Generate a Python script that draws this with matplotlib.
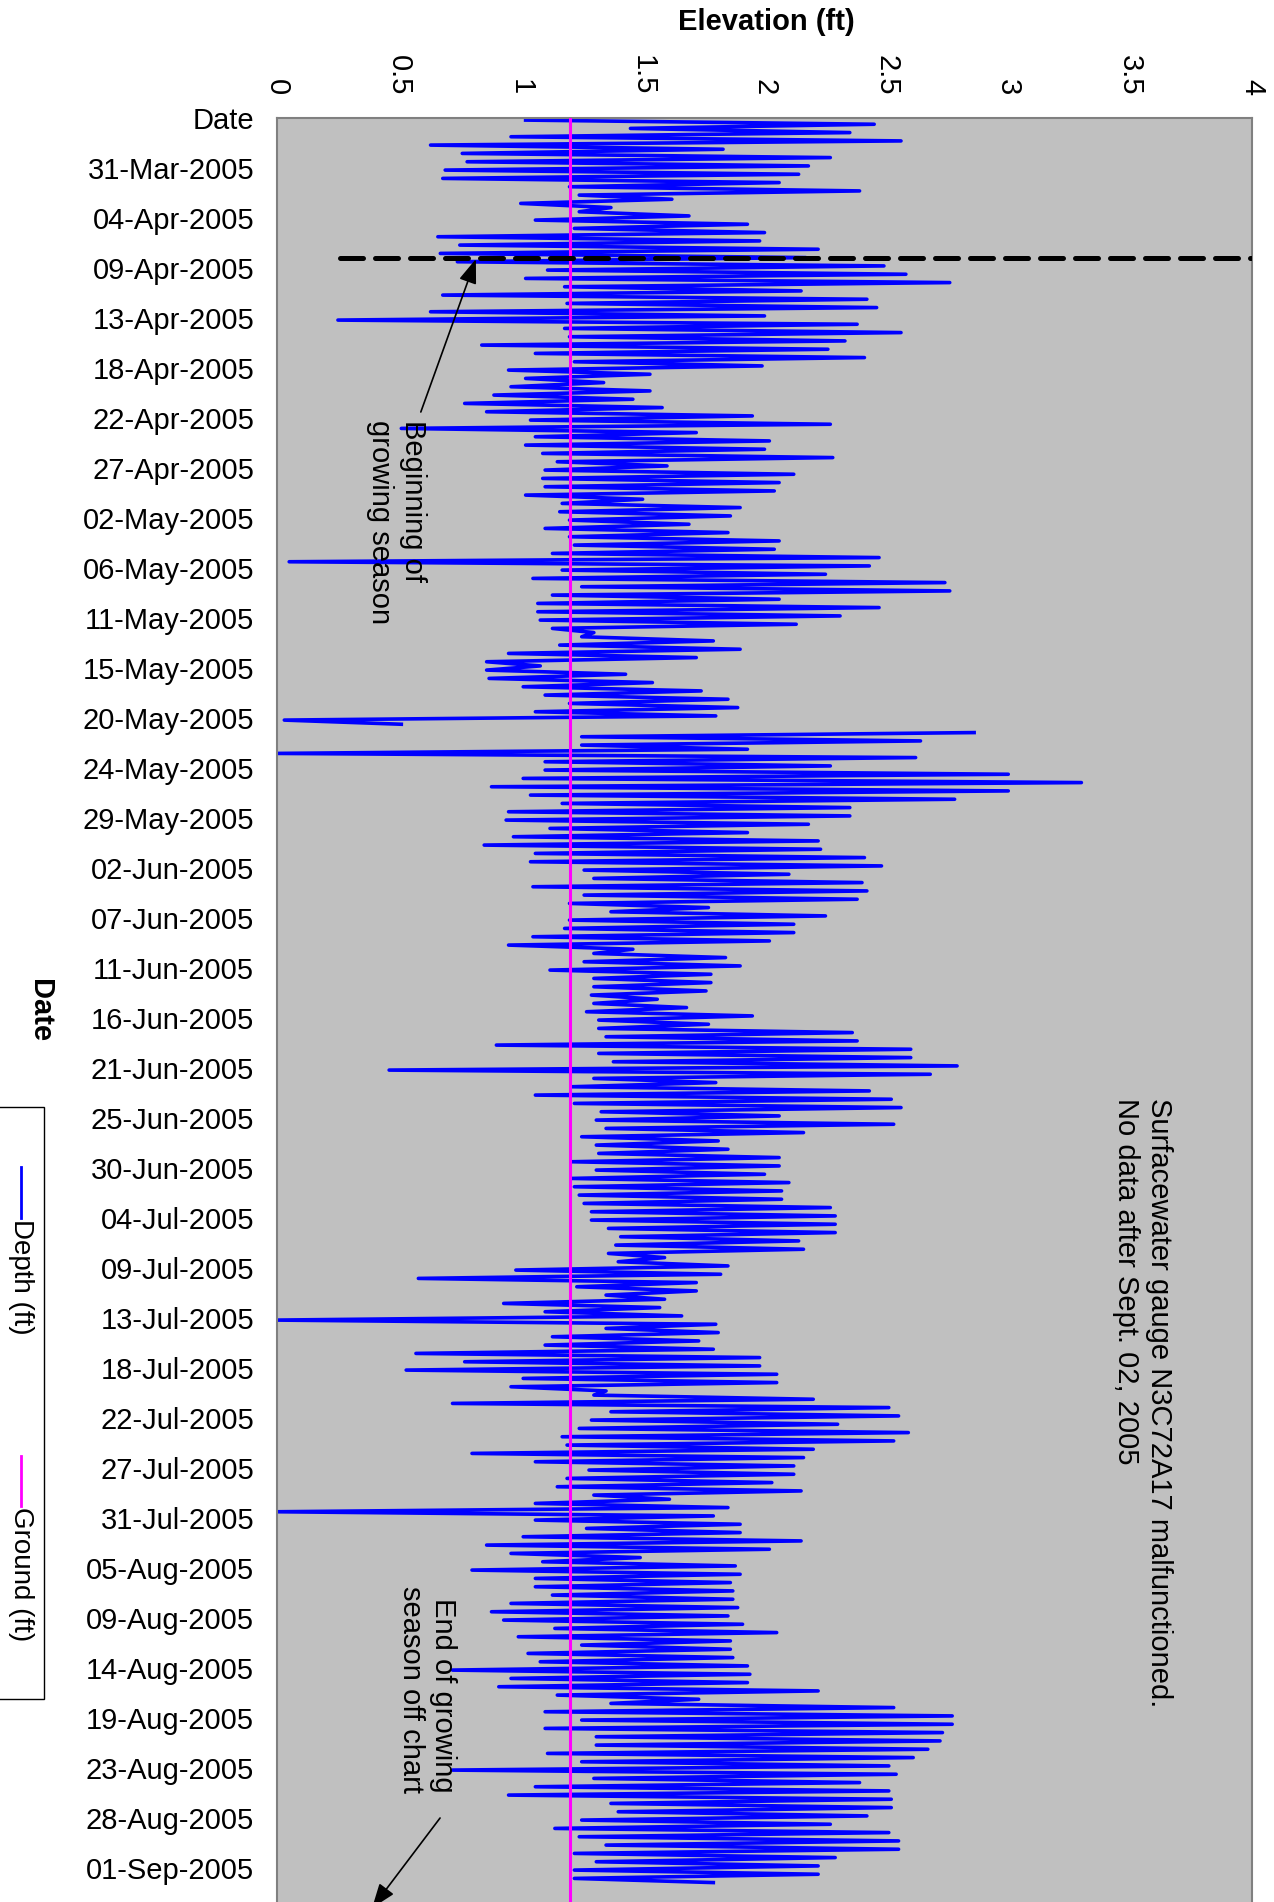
import numpy as np
import matplotlib
matplotlib.use("Agg")
import matplotlib.pyplot as plt
from matplotlib.patches import Rectangle
from matplotlib.lines import Line2D

plt.rcParams['font.family'] = ['Liberation Sans', 'DejaVu Sans']

# --- date labels on the category axis (one label every ~4.6 days) ---
date_labels = ['Date', '31-Mar-2005', '04-Apr-2005', '09-Apr-2005', '13-Apr-2005',
               '18-Apr-2005', '22-Apr-2005', '27-Apr-2005', '02-May-2005', '06-May-2005',
               '11-May-2005', '15-May-2005', '20-May-2005', '24-May-2005', '29-May-2005',
               '02-Jun-2005', '07-Jun-2005', '11-Jun-2005', '16-Jun-2005', '21-Jun-2005',
               '25-Jun-2005', '30-Jun-2005', '04-Jul-2005', '09-Jul-2005', '13-Jul-2005',
               '18-Jul-2005', '22-Jul-2005', '27-Jul-2005', '31-Jul-2005', '05-Aug-2005',
               '09-Aug-2005', '14-Aug-2005', '19-Aug-2005', '23-Aug-2005', '28-Aug-2005',
               '01-Sep-2005']

# --- depth readings (ft), 12 readings per label step ---
depth_apr = [
    1.02, 2.45, 1.45, 2.35, 0.96, 2.56, 0.63, 1.83, 0.76, 2.27, 0.78, 2.18,
    0.69, 2.14, 0.68, 2.06, 1.20, 2.39, 1.24, 1.62, 1.00, 1.37, 1.24, 1.69,
    1.06, 1.93, 1.22, 2.00, 0.66, 1.98, 0.75, 2.22, 0.67, 2.17, 0.74, 2.49,
    1.11, 2.58, 1.02, 2.76, 1.18, 2.15, 0.68, 2.42, 1.19, 2.46, 0.63, 2.00,
    0.25, 2.38, 1.18, 2.56, 1.20, 2.33, 0.84, 2.26, 1.06, 2.41, 1.22, 1.99,
    0.95, 1.53, 1.02, 1.34, 0.96, 1.53, 0.89, 1.46, 0.77, 1.58, 0.86, 1.95,
    1.04, 2.27, 0.51, 1.72, 1.06, 2.02, 1.02, 2.00, 1.09, 2.28, 1.15, 1.60,
    1.10, 2.12, 1.09, 2.06, 1.10, 2.04, 1.02, 1.50, 1.17, 1.90, 1.16, 1.86,
]
depth_may = [
    1.20, 1.69, 1.10, 1.85, 1.20, 2.06, 1.22, 2.04, 1.13, 2.47, 0.05, 2.43,
    1.17, 2.25, 1.05, 2.74, 1.25, 2.76, 1.13, 2.06, 1.07, 2.47, 1.07, 2.31,
    1.08, 2.13, 1.13, 1.30, 1.25, 1.79, 1.16, 1.90, 0.95, 1.72, 0.86, 1.08,
    0.86, 1.43, 0.87, 1.54, 1.01, 1.74, 1.10, 1.85, 1.20, 1.89, 1.06, 1.80,
    0.03, 0.51, np.nan, 2.86, 1.25, 2.64, 1.25, 1.93, 0.00, 2.62, 1.10, 2.27,
    1.10, 3.00, 1.01, 3.30, 0.88, 3.00, 1.04, 2.78, 1.17, 2.35, 0.95, 2.35,
    0.94, 2.18, 1.12, 1.93, 0.97, 2.22, 0.85, 2.23, 1.06, 2.41, 1.04, 2.48,
    1.26, 2.10, 1.30, 2.40, 1.05, 2.42, 1.26, 2.38, 1.20, 1.77, 1.37, 2.25,
]
depth_jun = [
    1.20, 2.12, 1.18, 2.12, 1.05, 2.02, 0.95, 1.46, 1.30, 1.84, 1.26, 1.90,
    1.12, 1.78, 1.30, 1.78, 1.30, 1.76, 1.29, 1.56, 1.30, 1.68, 1.27, 1.95,
    1.32, 1.77, 1.32, 2.36, 1.35, 2.38, 0.90, 2.60, 1.32, 2.60, 1.38, 2.79,
    0.46, 2.68, 1.30, 1.80, 1.21, 2.43, 1.06, 2.52, 1.22, 2.56, 1.33, 2.06,
    1.31, 2.53, 1.35, 2.16, 1.25, 1.81, 1.31, 1.85, 1.32, 2.06, 1.21, 2.06,
    1.31, 2.00, 1.21, 2.10, 1.22, 2.07, 1.24, 2.07, 1.26, 2.27, 1.29, 2.29,
    1.29, 2.29, 1.36, 2.29, 1.41, 2.14, 1.39, 2.16, 1.36, 1.59, 1.40, 1.85,
    0.98, 1.82, 0.58, 1.72, 1.23, 1.72, 1.35, 1.59, 0.93, 1.57, 1.10, 1.66,
]
depth_jul = [
    0.00, 1.80, 1.35, 1.81, 1.13, 1.73, 1.10, 1.79, 0.57, 1.98, 0.77, 1.98,
    0.53, 2.05, 1.01, 2.05, 0.96, 1.35, 1.30, 2.20, 0.72, 2.51, 1.37, 2.55,
    1.29, 2.30, 1.24, 2.59, 1.17, 2.53, 1.19, 2.20, 0.80, 2.16, 1.06, 2.12,
    1.28, 2.12, 1.19, 2.03, 1.15, 2.15, 1.30, 1.61, 1.06, 1.85, 0.00, 1.79,
    1.06, 1.90, 1.27, 1.90, 1.01, 2.15, 0.86, 2.02, 0.96, 1.49, 1.09, 1.88,
    0.80, 1.90, 1.06, 1.86, 1.06, 1.87, 1.13, 1.87, 0.96, 1.89, 0.88, 1.85,
    0.93, 1.91, 1.14, 2.05, 0.99, 1.86, 1.25, 1.86, 1.03, 1.87, 1.08, 1.93,
]
depth_aug = [
    0.72, 1.94, 0.96, 1.93, 0.91, 2.22, 1.15, 1.73, 1.37, 2.53, 1.10, 2.77,
    1.25, 2.77, 1.10, 2.73, 1.31, 2.72, 1.31, 2.67, 1.11, 2.61, 1.25, 2.51,
    0.72, 2.54, 1.30, 2.39, 1.06, 2.51, 0.95, 2.52, 1.37, 2.52, 1.40, 2.42,
    1.25, 2.27, 1.14, 2.51, 1.24, 2.55, 1.35, 2.55, 1.22, 2.29, 1.31, 2.22,
    1.22, 2.22, 1.22, 1.79,
]
readings_per_label = 12
ground_ft = 1.2

depth = np.array(depth_apr + depth_may + depth_jun + depth_jul + depth_aug)
pos = (np.arange(len(depth)) + 0.5) / readings_per_label

# --- figure (the whole Excel chart is turned on its side) ---
fig = plt.figure(figsize=(12.74, 19.02), dpi=100)
ax = fig.add_axes([277 / 1274, 0.0, 975 / 1274, 1 - 118 / 1902])
ax.set_facecolor('#C0C0C0')

ax.plot(depth, pos, color='#0000FF', linewidth=2.6, zorder=2)
ax.axvline(ground_ft, color='#FF00FF', linewidth=2.2, zorder=3)

ax.set_xlim(0, 4)
ax.set_ylim(35.68, 0)

ax.xaxis.tick_top()
ax.set_xticks(np.arange(0, 4.01, 0.5))
ax.set_xticklabels(['0', '0.5', '1', '1.5', '2', '2.5', '3', '3.5', '4'],
                   rotation=-90, fontsize=21)
ax.tick_params(axis='x', length=0, pad=16.5)
ax.set_yticks(np.arange(len(date_labels)))
ax.set_yticklabels(date_labels, fontsize=21)
ax.tick_params(axis='y', length=0, pad=16.5)

for side in ['left', 'top', 'right']:
    ax.spines[side].set_color('#808080')
    ax.spines[side].set_linewidth(1.5)
ax.spines['bottom'].set_visible(False)

# --- growing season marks ---
season_start_pos = 2.8
ax.plot([0.26, 4.0], [season_start_pos, season_start_pos], color='black',
        linewidth=3.6, linestyle=(0, (4.6, 2.4)), dash_capstyle='round', zorder=4)
ax.annotate('', xy=(0.816, 2.82), xytext=(0.59, 5.88),
            arrowprops=dict(arrowstyle='-|>,head_length=0.6,head_width=0.22',
                            color='black', lw=1.2, mutation_scale=25,
                            shrinkA=0, shrinkB=0), zorder=5)
ax.text(0.49, 6.04, 'Beginning of\ngrowing season', rotation=-90, fontsize=21,
        ha='center', va='top', multialignment='left', zorder=5)

ax.annotate('', xy=(0.39, 35.8), xytext=(0.669, 34.0),
            arrowprops=dict(arrowstyle='-|>,head_length=0.6,head_width=0.22',
                            color='black', lw=1.2, mutation_scale=25,
                            shrinkA=0, shrinkB=0), annotation_clip=False, zorder=5)
ax.text(0.615, 33.5, 'End of growing\nseason off chart', rotation=-90, fontsize=21,
        ha='center', va='bottom', multialignment='right', zorder=5)

ax.text(3.55, 19.6, 'Surfacewater gauge N3C72A17 malfunctioned.\nNo data after Sept. 02, 2005',
        rotation=-90, fontsize=21, ha='center', va='top', multialignment='left', zorder=5)

# --- axis titles ---
fig.text(766 / 1274, 1 - 22 / 1902, 'Elevation (ft)', fontsize=21, fontweight='bold',
         ha='center', va='center')
fig.text(40 / 1274, 1 - 1011 / 1902, 'Date', fontsize=21, fontweight='bold',
         rotation=-90, ha='center', va='center')

# --- legend (drawn by hand, it is turned too) ---
fig.add_artist(Rectangle((-5 / 1274, 1 - 1699 / 1902), 49 / 1274, 592 / 1902,
                         transform=fig.transFigure, facecolor='white',
                         edgecolor='black', linewidth=1.0))
fig.add_artist(Line2D([21 / 1274, 21 / 1274], [1 - 1167 / 1902, 1 - 1218 / 1902],
                      transform=fig.transFigure, color='#0000FF', linewidth=2.0))
fig.text(21 / 1274, 1 - 1219 / 1902, 'Depth (ft)', fontsize=20, rotation=-90,
         ha='center', va='top')
fig.add_artist(Line2D([21 / 1274, 21 / 1274], [1 - 1456 / 1902, 1 - 1506 / 1902],
                      transform=fig.transFigure, color='#FF00FF', linewidth=2.0))
fig.text(21 / 1274, 1 - 1507 / 1902, 'Ground (ft)', fontsize=20, rotation=-90,
         ha='center', va='top')

fig.savefig('out.png', dpi=100)
